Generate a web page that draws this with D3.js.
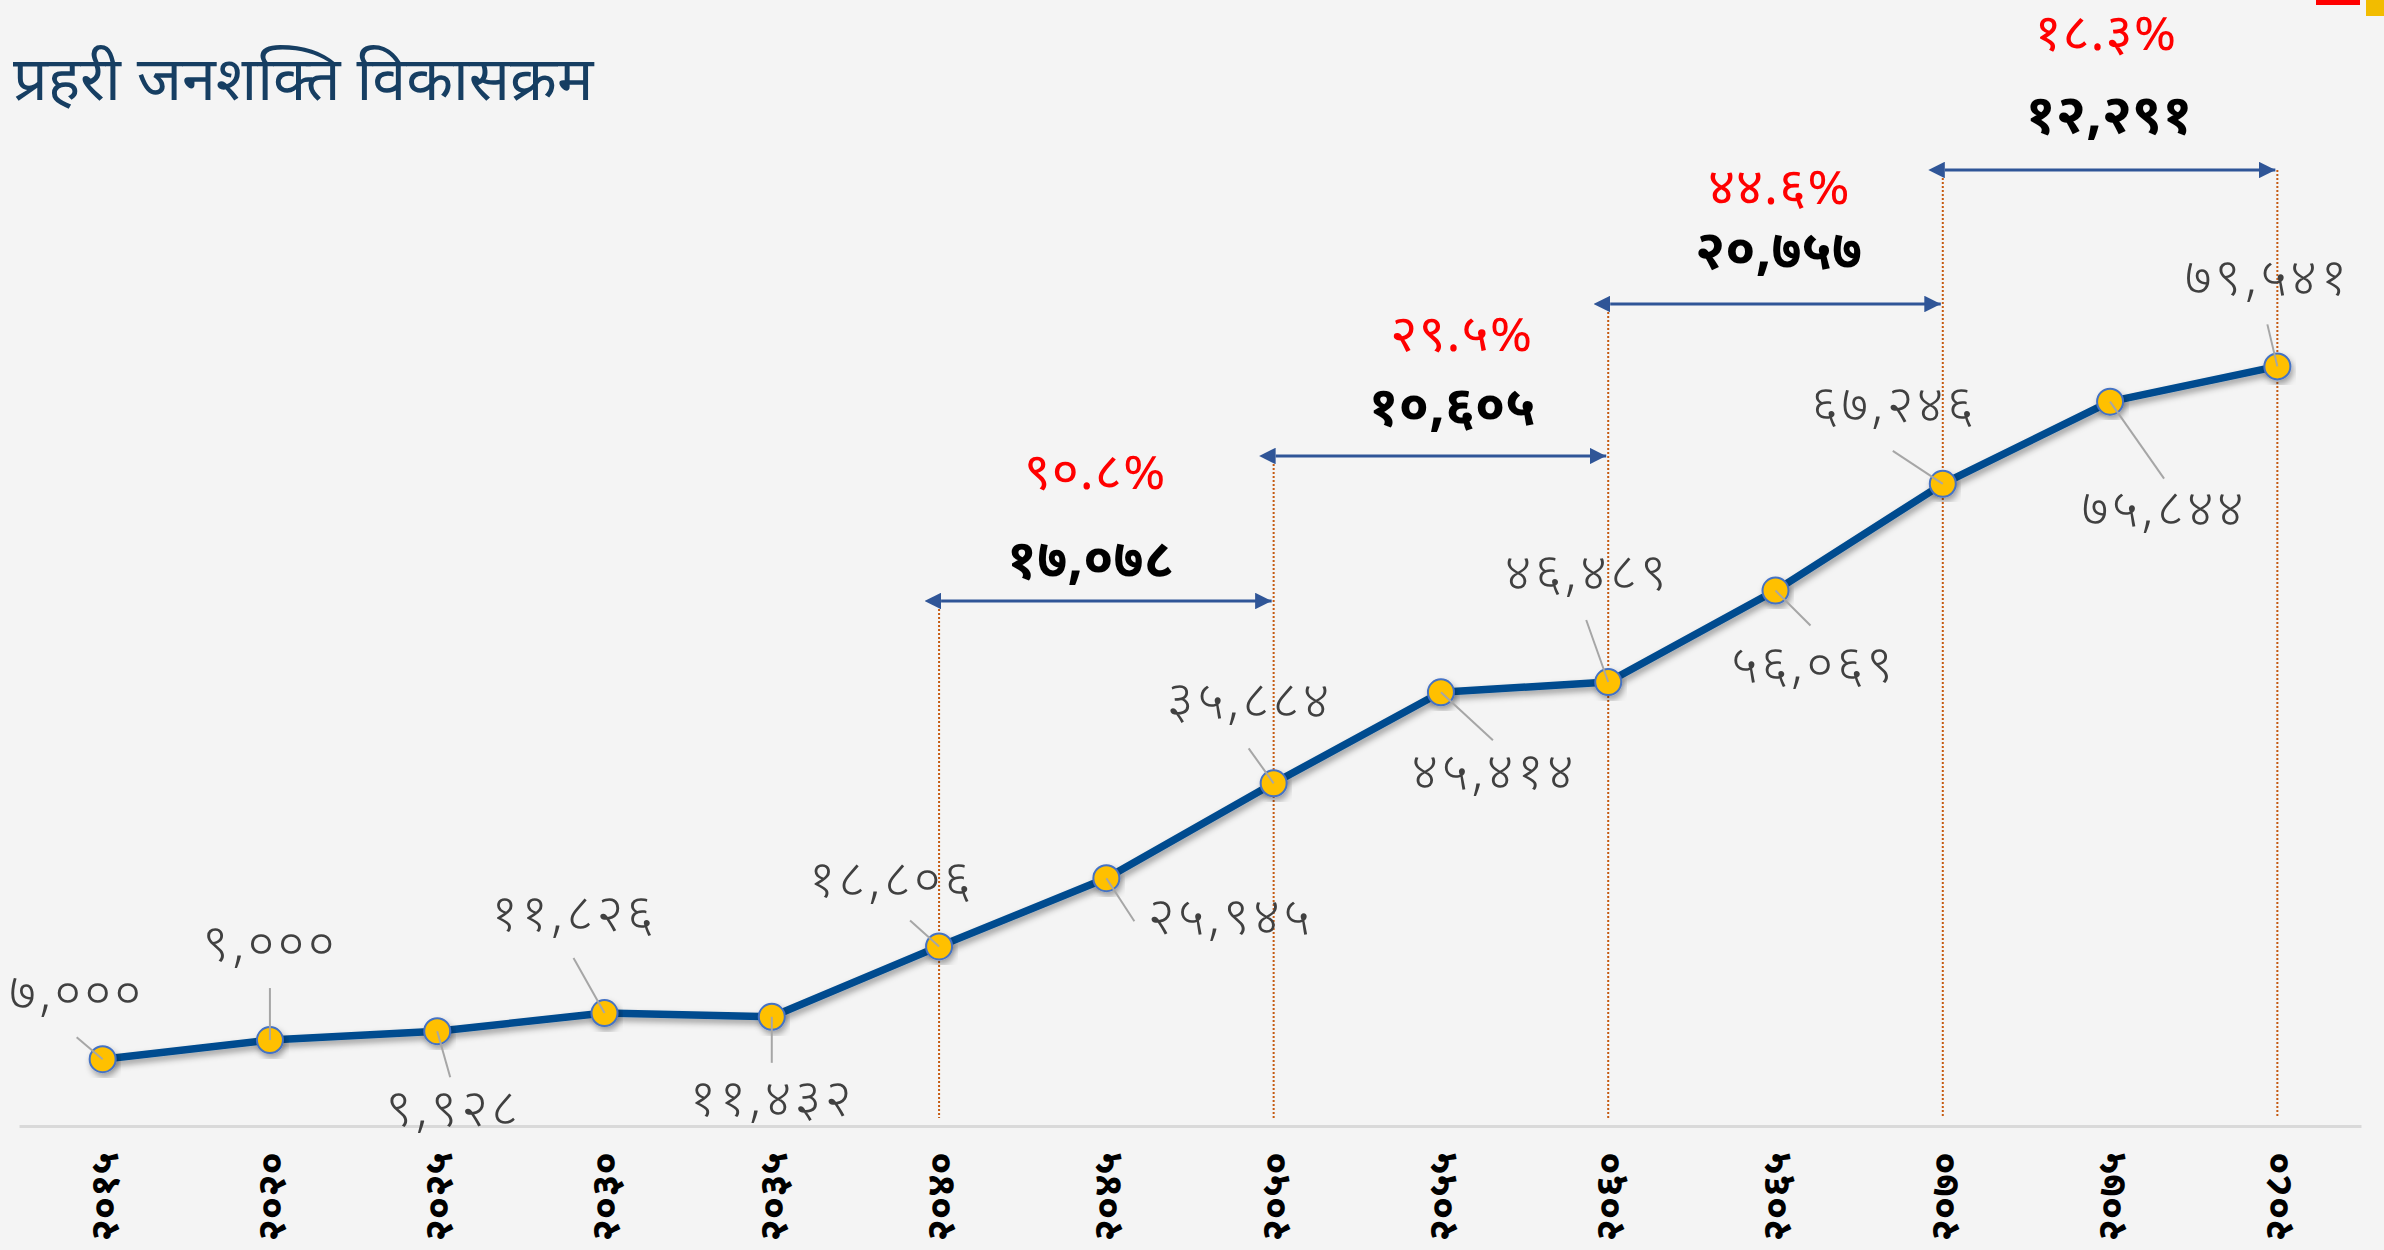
<!DOCTYPE html>
<html>
<head>
<meta charset="utf-8">
<script src="https://cdn.jsdelivr.net/npm/d3@7"></script>
<style>
  html, body { margin: 0; padding: 0; background: #f4f4f4; }
  svg { display: block; }
  text { font-family: "Noto Sans Devanagari", "Lohit Devanagari", "Mukta", "Nirmala UI", "Mangal", "Noto Sans", sans-serif; }
</style>
</head>
<body>
<svg id="chart" width="2384" height="1250"></svg>
<script>
// ---------- data ----------
const years = ["२०१५","२०२०","२०२५","२०३०","२०३५","२०४०","२०४५","२०५०","२०५५","२०६०","२०६५","२०७०","२०७५","२०८०"];
const values = [7000, 9000, 9928, 11826, 11432, 18806, 25945, 35884, 45414, 46489, 56069, 67246, 75844, 79541];
const valueLabels = ["७,०००","९,०००","९,९२८","११,८२६","११,४३२","१८,८०६","२५,९४५","३५,८८४","४५,४१४","४६,४८९","५६,०६९","६७,२४६","७५,८४४","७९,५४१"];
// growth brackets: from year index -> to year index
const spanFrom = [5, 7, 9, 11];
const spanTo   = [7, 9, 11, 13];
const spanDiffLabels = ["१७,०७८","१०,६०५","२०,७५७","१२,२९१"];
const spanPctLabels  = ["९०.८%","२९.५%","४४.६%","१८.३%"];
const title = "प्रहरी जनशक्ति विकासक्रम";

// ---------- layout (placement offsets in px) ----------
const labelOffset = [[-26,-62],[0,-92],[16,82],[-31,-95],[0,86],[-48,-62],[124,43],[-24,-78],[53,84],[-21,-105],[38,78],[-49,-75],[54,111],[-10,-84]];
const leaderEnd   = [[-26,-22],[0,-52],[13,46],[-31,-55],[0,46],[-29,-26],[28,43],[-25,-35],[52,48],[-22,-62],[35,35],[-50,-33],[54,77],[-10,-42]];
const spanY = [601, 456, 304, 170];
const diffDx = [-16, 11, 3, -1], diffDy = [-36, -44, -48, -50];
const pctDx = [-11, 21, 4, -4], pctDy = [-125, -118, -113, -133];

const W = 2384, H = 1250;
const svg = d3.select("#chart");

svg.append("rect").attr("width", W).attr("height", H).attr("fill", "#f4f4f4");

const defs = svg.append("defs");
const f = defs.append("filter").attr("id", "shadow").attr("x", "-20%").attr("y", "-20%").attr("width", "140%").attr("height", "140%");
f.append("feDropShadow").attr("dx", 2).attr("dy", 4).attr("stdDeviation", 3).attr("flood-color", "#000").attr("flood-opacity", 0.35);

["start","end"].forEach(k => {
  defs.append("marker").attr("id", "arrow-" + k)
    .attr("viewBox", "0 0 10 10").attr("refX", k === "end" ? 10 : 0).attr("refY", 5)
    .attr("markerWidth", 5.5).attr("markerHeight", 5.5).attr("markerUnits", "strokeWidth")
    .attr("orient", "auto-start-reverse")
    .append("path").attr("d", "M0,0 L10,5 L0,10 Z").attr("fill", "#2f5597");
});

// decorative corner marks
svg.append("rect").attr("x", 2316).attr("y", 0).attr("width", 44).attr("height", 5).attr("fill", "#ff0000");
svg.append("rect").attr("x", 2366).attr("y", 0).attr("width", 18).attr("height", 16).attr("fill", "#f2bc00");

// title
svg.append("text").attr("x", 13).attr("y", 100).attr("font-size", 61).attr("fill", "#163e62").text(title);

// scales
const x = d3.scalePoint().domain(years).range([19, 2361]).padding(0.5);
const y = d3.scaleLinear().domain([0, 80000]).range([1126, 362]);

// axis
const axis = d3.axisBottom(x).tickSize(0).tickPadding(0);
const gx = svg.append("g").attr("transform", `translate(0,${y(0)})`).call(axis);
gx.select(".domain").attr("stroke", "#d9d9d9").attr("stroke-width", 3);
gx.selectAll(".tick text")
  .attr("transform", "translate(0,26) rotate(-90)")
  .attr("text-anchor", "end").attr("dy", "0.36em").attr("x", 0).attr("y", 0)
  .attr("font-size", 40).attr("font-weight", "bold").attr("fill", "#000")
  .style("font-family", "'Noto Sans Devanagari', 'Lohit Devanagari', 'Noto Sans', sans-serif");

// dotted verticals
const verticalIdx = [5, 7, 9, 11, 13];
const vTop = [601, 456, 304, 170, 170];
svg.append("g").selectAll("line").data(verticalIdx).join("line")
  .attr("x1", d => x(years[d])).attr("x2", d => x(years[d]))
  .attr("y1", (d, i) => vTop[i]).attr("y2", 1118)
  .attr("stroke", "#c55a11").attr("stroke-width", 2).attr("stroke-dasharray", "2,2");

// arrows + labels
const brackets = spanFrom.map((s, i) => ({ i, s, e: spanTo[i], y: spanY[i], diff: spanDiffLabels[i], pct: spanPctLabels[i] }));
const mid = d => (x(years[d.s]) + x(years[d.e])) / 2;
const bg = svg.append("g");
bg.selectAll("line").data(brackets).join("line")
  .attr("x1", d => x(years[d.s]) + 2).attr("x2", d => x(years[d.e]) - 2)
  .attr("y1", d => d.y).attr("y2", d => d.y)
  .attr("stroke", "#2f5597").attr("stroke-width", 3)
  .attr("marker-start", "url(#arrow-start)").attr("marker-end", "url(#arrow-end)");
bg.selectAll("text.diff").data(brackets).join("text").attr("class", "diff")
  .attr("x", d => mid(d) + diffDx[d.i])
  .attr("y", d => d.y + diffDy[d.i])
  .attr("dominant-baseline", "central")
  .attr("text-anchor", "middle").attr("font-size", 54).attr("font-weight", "bold").attr("fill", "#000")
  .text(d => d.diff);
bg.selectAll("text.pct").data(brackets).join("text").attr("class", "pct")
  .attr("x", d => mid(d) + pctDx[d.i])
  .attr("y", d => d.y + pctDy[d.i])
  .attr("dominant-baseline", "central")
  .attr("text-anchor", "middle").attr("font-size", 52).attr("fill", "#ff0000")
  .attr("letter-spacing", 1)
  .text(d => d.pct);

// line + markers
const pts = values.map((v, i) => ({ x: x(years[i]), y: y(v), i }));
const line = d3.line().x(d => d.x).y(d => d.y);
svg.append("path").datum(pts).attr("d", line)
  .attr("fill", "none").attr("stroke", "#004c8f").attr("stroke-width", 7.5)
  .attr("stroke-linejoin", "round").attr("filter", "url(#shadow)");
svg.append("g").selectAll("circle").data(pts).join("circle")
  .attr("cx", d => d.x).attr("cy", d => d.y).attr("r", 13)
  .attr("fill", "#ffc000").attr("stroke", "#4472c4").attr("stroke-width", 2)
  .attr("filter", "url(#shadow)");

// leader lines
svg.append("g").selectAll("line").data(pts).join("line")
  .attr("x1", d => d.x).attr("y1", d => d.y)
  .attr("x2", d => d.x + leaderEnd[d.i][0]).attr("y2", d => d.y + leaderEnd[d.i][1])
  .attr("stroke", "#a6a6a6").attr("stroke-width", 2);

// value labels
svg.append("g").selectAll("text").data(pts).join("text")
  .attr("x", d => d.x + labelOffset[d.i][0]).attr("y", d => d.y + labelOffset[d.i][1])
  .attr("text-anchor", "middle").attr("dominant-baseline", "central")
  .attr("font-size", 52).attr("font-weight", 300).attr("fill", "#404040")
  .attr("letter-spacing", 3)
  .text(d => valueLabels[d.i]);
</script>
</body>
</html>
